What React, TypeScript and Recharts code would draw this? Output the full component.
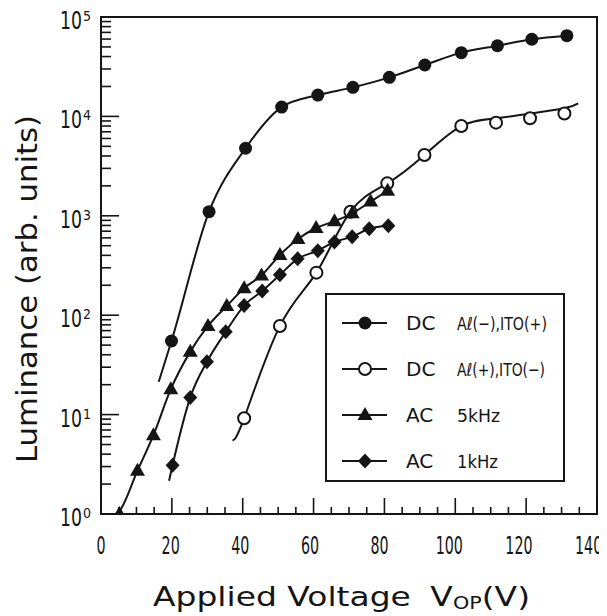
import React from 'react';
import { ComposedChart, XAxis, YAxis, Line, Scatter, ReferenceArea, Legend, Label } from 'recharts';

const INK = '#151515';
const NARROW = "'DejaVu Sans Condensed', 'Liberation Sans Narrow', sans-serif";
const TITLE_FONT = "'DejaVu Sans', 'Noto Sans', sans-serif";

// ---- data (V = applied voltage, L = luminance) ----
// DC  Al(-), ITO(+)  (filled circles)
const dcNegV = [19.9, 30.5, 40.8, 51.0, 61.2, 71.1, 81.4, 91.4, 101.7, 111.9, 121.6, 131.5];
const dcNegL = [55, 1100, 4780, 12400, 16400, 19600, 24700, 32900, 43800, 51400, 59700, 64900];
const dcNegFitV = [16.3, 19.9, 30.5, 40.8, 51.0, 61.2, 71.1, 81.4, 91.4, 101.7, 111.9, 121.6, 131.5];
const dcNegFitL = [21.4, 55, 1100, 4780, 12400, 16400, 19600, 24700, 32900, 43800, 51400, 59700, 64900];

// DC  Al(+), ITO(-)  (open circles)
const dcPosV = [40.4, 50.5, 60.8, 70.4, 80.8, 91.3, 101.7, 111.5, 121.1, 130.8];
const dcPosL = [9.2, 78, 268, 1100, 2120, 4090, 8000, 8650, 9570, 10700];
const dcPosFitV = [37.1, 40.4, 50.5, 60.8, 70.4, 80.8, 91.3, 101.7, 111.5, 121.1, 130.8, 134.7];
const dcPosFitL = [5.5, 9.2, 78, 268, 1100, 2120, 4090, 8000, 9570, 10700, 12070, 13550];

// AC 5kHz (triangles)
const ac5V = [5.2, 10.3, 14.8, 19.7, 25.2, 30.2, 35.5, 40.4, 45.3, 50.5, 55.6, 60.7, 65.9, 70.9, 76.1, 80.9];
const ac5L = [1, 2.73, 6.2, 18, 43, 78, 124, 187, 251, 404, 585, 754, 883, 1060, 1390, 1790];
const ac5FitV = [4.3, 5.2, 10.3, 14.8, 19.7, 25.2, 30.2, 35.5, 40.4, 45.3, 50.5, 55.6, 60.7, 65.9, 70.9, 76.1, 80.9];
const ac5FitL = [1, 1.07, 2.73, 6.2, 18, 43, 78, 124, 187, 251, 404, 585, 754, 883, 1060, 1390, 1790];

// AC 1kHz (diamonds)
const ac1V = [20.2, 25.2, 29.9, 35.2, 40.4, 45.5, 50.5, 55.5, 61.2, 65.9, 70.9, 75.7, 81.1];
const ac1L = [3.1, 14.9, 34, 68, 125, 175, 255, 369, 446, 545, 617, 740, 793];
const ac1FitV = [19.2, 20.2, 25.2, 29.9, 35.2, 40.4, 45.5, 50.5, 55.5, 61.2, 65.9, 70.9, 75.7, 81.1];
const ac1FitL = [2.16, 3.1, 14.9, 34, 68, 125, 175, 255, 369, 446, 545, 617, 740, 793];

// axis ticks
const xTicks = [0, 5, 10, 15, 20, 25, 30, 35, 40, 45, 50, 55, 60, 65, 70, 75, 80, 85, 90, 95, 100, 105, 110, 115, 120, 125, 130, 135, 140];
const xMajor = [0, 20, 40, 60, 80, 100, 120, 140];
const yDecades = [1, 10, 100, 1000, 10000, 100000];
const yMinorMult = [2, 3, 4, 5, 6, 7, 8, 9];
const yTicks: number[] = [];
yDecades.forEach((d, i) => {
  yTicks.push(d);
  if (i < yDecades.length - 1) yMinorMult.forEach((m) => yTicks.push(d * m));
});

// legend text
const legendMode = ['DC', 'DC', 'AC', 'AC'];
const legendDetail = ['A\u2113(\u2212),ITO(+)', 'A\u2113(+),ITO(\u2212)', '5kHz', '1kHz'];
const legendDetailWidth = [90, 88, 43, 41];
const legendShape = ['filled', 'open', 'triangle', 'diamond'];

const zip = (vs: number[], ls: number[]) => vs.map((v, i) => ({ v, l: ls[i] }));

const markerSvg = (kind: string, cx: number, cy: number) => {
  if (kind === 'filled') return <circle cx={cx} cy={cy} r={6.5} fill={INK} />;
  if (kind === 'open') return <circle cx={cx} cy={cy} r={6} fill="#fff" stroke={INK} strokeWidth={2} />;
  if (kind === 'triangle')
    return <polygon points={`${cx},${cy - 8} ${cx - 7.5},${cy + 5} ${cx + 7.5},${cy + 5}`} fill={INK} />;
  return <polygon points={`${cx},${cy - 7.5} ${cx + 7},${cy} ${cx},${cy + 7.5} ${cx - 7},${cy}`} fill={INK} />;
};

const makeShape = (kind: string) => (props: any) => {
  const { cx, cy } = props;
  if (cx == null || cy == null) return <g />;
  return markerSvg(kind, cx, cy);
};

const XTick = (props: any) => {
  const { x, y, payload } = props;
  const v = payload.value;
  const major = xMajor.includes(v);
  const label = String(v);
  return (
    <g>
      <line x1={x} x2={x} y1={y} y2={y - (major ? 16 : 7)} stroke={INK} strokeWidth={1.6} />
      {major && (
        <text
          transform={`translate(${x - v * 0.06}, ${y + 40}) scale(0.66, 1)`}
          x={0}
          y={0}
          textAnchor="middle"
          fontFamily={NARROW}
          fontSize={24}
          fill={INK}
        >
          {label}
        </text>
      )}
    </g>
  );
};

const YTick = (props: any) => {
  const { x, y, payload } = props;
  const v = payload.value;
  const idx = yDecades.indexOf(v);
  const major = idx >= 0;
  return (
    <g>
      <line x1={x} x2={x + (major ? 18 : 10)} y1={y} y2={y} stroke={INK} strokeWidth={1.6} />
      {major && (
        <g>
          <text
            transform={`translate(${x - 19}, ${y + 12}) scale(0.8, 1)`}
            x={0}
            y={0}
            textAnchor="end"
            fontFamily={NARROW}
            fontSize={24}
            fill={INK}
          >
            10
          </text>
          <text x={x - 18} y={y + 4} textAnchor="start" fontFamily={NARROW} fontSize={14} fill={INK}>
            {idx}
          </text>
        </g>
      )}
    </g>
  );
};

const XTitle = () => (
  <text x={153} y={606} fontFamily={TITLE_FONT} fontSize={27} fill={INK} textLength={377} lengthAdjust="spacingAndGlyphs">
    <tspan>Applied Voltage</tspan>
    <tspan dx={16}>V</tspan>
    <tspan fontSize={17} dy={3}>OP</tspan>
    <tspan dy={-3}>(V)</tspan>
  </text>
);

const YTitle = () => (
  <text
    x={37}
    y={289}
    transform="rotate(-90, 37, 289)"
    textAnchor="middle"
    fontFamily={TITLE_FONT}
    fontSize={28}
    fill={INK}
    textLength={348}
    lengthAdjust="spacingAndGlyphs"
  >
    Luminance (arb. units)
  </text>
);

const rowCenters = [28, 74, 120, 166];

const LegendBox = () => (
  <div
    style={{
      position: 'relative',
      width: 240,
      height: 189,
      border: `2px solid ${INK}`,
      boxSizing: 'border-box',
      background: '#fff',
    }}
  >
    <svg width={236} height={185} style={{ position: 'absolute', left: 0, top: 0 }}>
      {legendMode.map((m, i) => {
        const cy = rowCenters[i];
        return (
          <g key={i}>
            <line x1={15} x2={60} y1={cy} y2={cy} stroke={INK} strokeWidth={2} />
            {markerSvg(legendShape[i], 38, cy)}
            <text x={79} y={cy + 7} fontFamily={TITLE_FONT} fontSize={20} fill={INK}>
              {m}
            </text>
            <text
              x={130}
              y={cy + 7}
              fontFamily={NARROW}
              fontSize={18}
              fill={INK}
              textLength={legendDetailWidth[i]}
              lengthAdjust="spacingAndGlyphs"
            >
              {legendDetail[i]}
            </text>
          </g>
        );
      })}
    </svg>
  </div>
);

export default function App() {
  return (
    <div style={{ margin: '-8px 0 0 -8px', width: 607, height: 616 }}>
      <ComposedChart width={607} height={616} margin={{ top: 17, right: 10, bottom: 0, left: 0 }}>
        <XAxis
          type="number"
          dataKey="v"
          domain={[0, 140]}
          ticks={xTicks}
          interval={0}
          allowDataOverflow
          tick={<XTick />}
          tickLine={false}
          tickSize={0}
          tickMargin={0}
          height={102}
          axisLine={{ stroke: INK, strokeWidth: 2 }}
        >
          <Label content={<XTitle />} />
        </XAxis>
        <YAxis
          type="number"
          dataKey="l"
          scale="log"
          domain={[1, 100000]}
          ticks={yTicks}
          interval={0}
          allowDataOverflow
          tick={<YTick />}
          tickLine={false}
          tickSize={0}
          tickMargin={0}
          width={101}
          axisLine={{ stroke: INK, strokeWidth: 2 }}
        >
          <Label content={<YTitle />} />
        </YAxis>
        <ReferenceArea x1={0} x2={140} y1={1} y2={100000} fill="none" stroke={INK} strokeWidth={2} />

        <Line data={zip(dcNegFitV, dcNegFitL)} dataKey="l" type="monotone" stroke={INK} strokeWidth={2} dot={false} isAnimationActive={false} />
        <Line data={zip(dcPosFitV, dcPosFitL)} dataKey="l" type="natural" stroke={INK} strokeWidth={2} dot={false} isAnimationActive={false} />
        <Line data={zip(ac5FitV, ac5FitL)} dataKey="l" type="monotone" stroke={INK} strokeWidth={2} dot={false} isAnimationActive={false} />
        <Line data={zip(ac1FitV, ac1FitL)} dataKey="l" type="monotone" stroke={INK} strokeWidth={2} dot={false} isAnimationActive={false} />

        <Scatter data={zip(dcNegV, dcNegL)} dataKey="l" shape={makeShape('filled')} isAnimationActive={false} />
        <Scatter data={zip(dcPosV, dcPosL)} dataKey="l" shape={makeShape('open')} isAnimationActive={false} />
        <Scatter data={zip(ac5V, ac5L)} dataKey="l" shape={makeShape('triangle')} isAnimationActive={false} />
        <Scatter data={zip(ac1V, ac1L)} dataKey="l" shape={makeShape('diamond')} isAnimationActive={false} />

        <Legend
          layout="vertical"
          align="center"
          verticalAlign="middle"
          wrapperStyle={{ left: 325, top: 293, width: 240, height: 189 }}
          content={() => <LegendBox />}
        />
      </ComposedChart>
    </div>
  );
}
